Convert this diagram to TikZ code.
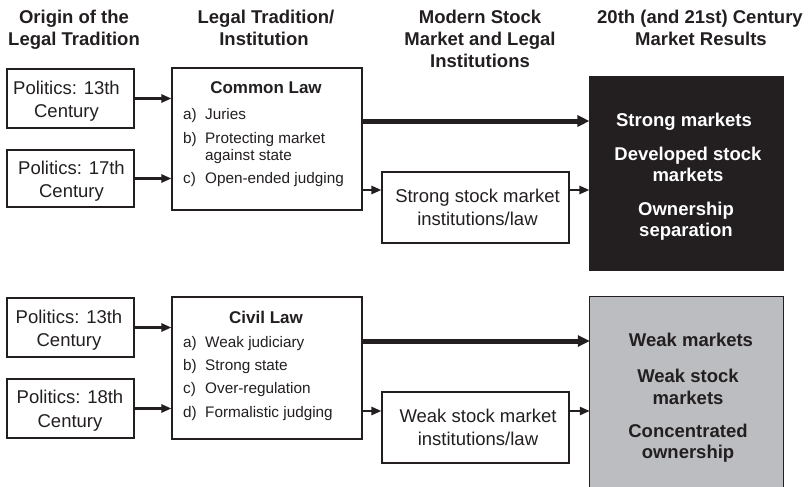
\documentclass[tikz,border=0pt]{standalone}
\usepackage{fontspec}
\setmainfont{Liberation Sans}
\usetikzlibrary{arrows.meta}
\definecolor{ink}{HTML}{231F20}
\definecolor{darkfill}{HTML}{231F20}
\definecolor{grayfill}{HTML}{BCBDC0}
\tikzset{
  box/.style={draw=ink, line width=1.1pt, inner sep=0pt, fill=white},
  hdr/.style={font=\bfseries\fontsize{18.5}{21.5}\selectfont, text=ink, align=center, anchor=base, inner sep=0pt},
  btxt/.style={font=\fontsize{18.5}{23}\selectfont, text=ink, anchor=base, inner sep=0pt},
  bhead/.style={font=\bfseries\fontsize{17}{20}\selectfont, text=ink, anchor=base, inner sep=0pt},
  itm/.style={font=\fontsize{15.3}{18}\selectfont, text=ink, anchor=base west, inner sep=0pt},
  res/.style={font=\bfseries\fontsize{18.5}{21}\selectfont, anchor=base, inner sep=0pt},
  thin/.style={draw=ink, line width=2.4pt, -{Triangle[length=10pt,width=8pt]}},
  thick/.style={draw=ink, line width=5pt, -{Triangle[length=12pt,width=11pt]}},
}
\begin{document}
\begin{tikzpicture}[x=1pt,y=-1pt]
\useasboundingbox (0,0) rectangle (811,487);

% headers
\node[hdr] (h1a) at (74,24) {Origin of the};
\node[hdr] (h1b) at (74,45.5) {Legal Tradition};
\node[hdr] (h2a) at (266,24) {Legal Tradition/};
\node[hdr] (h2b) at (264,45.5) {Institution};
\node[hdr] (h3a) at (480,24) {Modern Stock};
\node[hdr] (h3b) at (480,45.5) {Market and Legal};
\node[hdr] (h3c) at (480,67) {Institutions};
\node[hdr] (h4a) at (700,24) {20th (and 21st) Century};
\node[hdr] (h4b) at (701,45.5) {Market Results};

% ---------- top row ----------
\node[box, minimum width=127pt, minimum height=59pt] (p1) at (70.5,98.5) {};
\node[btxt] (p1a) at (66.5,94) {Politics: 13th};
\node[btxt] (p1b) at (66.5,117) {Century};
\node[box, minimum width=127pt, minimum height=57pt] (p2) at (70.5,178.5) {};
\node[btxt] (p2a) at (71.5,174) {Politics: 17th};
\node[btxt] (p2b) at (71.5,197) {Century};

\node[box, minimum width=190pt, minimum height=142pt] (cl) at (267,139) {};
\node[bhead] (clh) at (266,93) {Common Law};
\node[itm] (cla) at (183,119) {a)};
\node[itm] (clat) at (205,119) {Juries};
\node[itm] (clb) at (183,143) {b)};
\node[itm] (clbt) at (205,143) {Protecting market};
\node[itm] (clbu) at (205,160) {against state};
\node[itm] (clc) at (183,183) {c)};
\node[itm] (clct) at (205,183) {Open-ended judging};

\node[box, minimum width=187pt, minimum height=71pt] (ss) at (475.5,207.5) {};
\node[btxt] (ssa) at (477.5,202) {Strong stock market};
\node[btxt] (ssb) at (477.5,225) {institutions/law};

\node[draw=ink, line width=1.1pt, fill=darkfill, minimum width=193pt, minimum height=193pt, inner sep=0pt] (bk) at (686.5,173.5) {};
\node[res, text=white] (bk1) at (684,126) {Strong markets};
\node[res, text=white] (bk2) at (688,160) {Developed stock};
\node[res, text=white] (bk3) at (688,181) {markets};
\node[res, text=white] (bk4) at (686,215) {Ownership};
\node[res, text=white] (bk5) at (686,236) {separation};

\coordinate (ty1) at (0,190);
\draw[thin] (p1.east) -- (cl.west |- p1.east);
\draw[thin] (p2.east) -- (cl.west |- p2.east);
\draw[thick] (cl.east |- 0,121) -- (bk.west |- 0,121);
\draw[thin] (cl.east |- ty1) -- (ss.west |- ty1);
\draw[thin] (ss.east |- ty1) -- (bk.west |- ty1);

% ---------- bottom row ----------
\node[box, minimum width=127pt, minimum height=59pt] (p3) at (70.5,327.5) {};
\node[btxt] (p3a) at (69,323) {Politics: 13th};
\node[btxt] (p3b) at (69,346) {Century};
\node[box, minimum width=127pt, minimum height=59pt] (p4) at (70.5,408.5) {};
\node[btxt] (p4a) at (70,403) {Politics: 18th};
\node[btxt] (p4b) at (70,427) {Century};

\node[box, minimum width=190pt, minimum height=142pt] (cv) at (267,368) {};
\node[bhead] (cvh) at (266,323) {Civil Law};
\node[itm] (cva) at (183,347) {a)};
\node[itm] (cvat) at (205,347) {Weak judiciary};
\node[itm] (cvb) at (183,370) {b)};
\node[itm] (cvbt) at (205,370) {Strong state};
\node[itm] (cvc) at (183,393.5) {c)};
\node[itm] (cvct) at (205,393.5) {Over-regulation};
\node[itm] (cvd) at (183,417) {d)};
\node[itm] (cvdt) at (205,417) {Formalistic judging};

\node[box, minimum width=187pt, minimum height=71pt] (ws) at (475.5,427.5) {};
\node[btxt] (wsa) at (478,422) {Weak stock market};
\node[btxt] (wsb) at (478,445) {institutions/law};

\node[fill=grayfill, minimum width=193pt, minimum height=191pt, inner sep=0pt] (gy) at (686.5,392.5) {};
\draw[draw=ink, line width=1.1pt] (gy.south west) -- (gy.north west) -- (gy.north east) -- (gy.south east);
\node[res, text=ink] (gy1) at (691,346) {Weak markets};
\node[res, text=ink] (gy2) at (688,382) {Weak stock};
\node[res, text=ink] (gy3) at (688,404) {markets};
\node[res, text=ink] (gy4) at (688,437) {Concentrated};
\node[res, text=ink] (gy5) at (688,458) {ownership};

\coordinate (ty2) at (0,411);
\draw[thin] (p3.east) -- (cv.west |- p3.east);
\draw[thin] (p4.east) -- (cv.west |- p4.east);
\draw[thick] (cv.east |- 0,341) -- (gy.west |- 0,341);
\draw[thin] (cv.east |- ty2) -- (ws.west |- ty2);
\draw[thin] (ws.east |- ty2) -- (gy.west |- ty2);
\end{tikzpicture}
\end{document}
